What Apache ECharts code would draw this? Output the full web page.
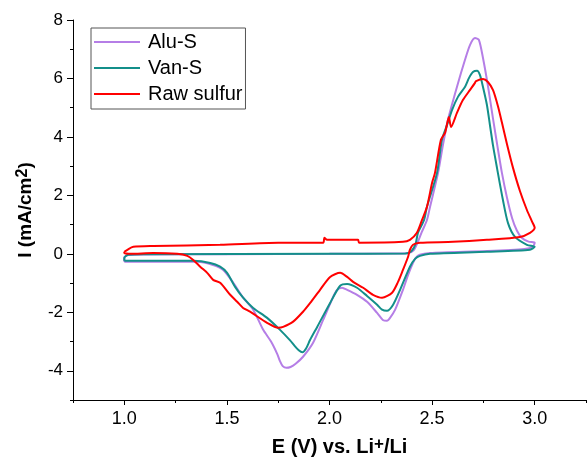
<!DOCTYPE html>
<html>
<head>
<meta charset="utf-8">
<script src="https://cdn.jsdelivr.net/npm/echarts@6/dist/echarts.min.js"></script>
<style>
  html, body { margin: 0; padding: 0; background: #fff; }
  #chart { width: 587px; height: 457px; }
</style>
</head>
<body>
<div id="chart"></div>
<script>
  // CV loops, [E (V), I (mA/cm2)]
  // anodic sweep 1.0 -> 3.0 first, then cathodic back to 1.0
  const aluS = [
    [1.00, -0.27], [1.00, -0.12], [1.02, -0.04], [1.10, -0.02], [1.50, -0.01], [2.00, 0.0],
    [2.30, 0.01], [2.38, 0.02], [2.41, 0.12], [2.43, 0.4], [2.45, 0.75], [2.475, 1.16],
    [2.49, 1.61], [2.529, 2.77], [2.553, 3.73], [2.577, 4.58], [2.621, 5.71], [2.66, 6.63],
    [2.685, 7.15], [2.709, 7.38], [2.728, 7.32], [2.748, 6.7], [2.772, 5.75], [2.797, 4.62],
    [2.818, 3.7], [2.84, 2.78], [2.865, 1.92], [2.89, 1.22], [2.913, 0.8], [2.938, 0.54],
    [2.97, 0.42], [3.0, 0.38], [2.99, 0.24], [2.95, 0.17], [2.77, 0.1], [2.49, 0.03], [2.44, -0.03],
    [2.42, -0.14], [2.407, -0.31], [2.383, -0.72], [2.358, -1.23], [2.32, -1.91], [2.295, -2.19],
    [2.28, -2.29], [2.26, -2.26], [2.232, -2.02], [2.183, -1.64], [2.134, -1.4], [2.086, -1.23],
    [2.061, -1.16], [2.035, -1.25], [2.018, -1.47], [1.969, -2.26], [1.92, -3.04], [1.871, -3.52],
    [1.835, -3.76], [1.81, -3.87], [1.79, -3.9], [1.772, -3.84], [1.758, -3.66], [1.745, -3.42],
    [1.715, -3.0], [1.677, -2.6], [1.628, -1.91], [1.579, -1.5], [1.531, -0.99], [1.482, -0.55],
    [1.433, -0.38], [1.355, -0.27], [1.224, -0.27], [1.0, -0.27]
  ]
  const vanS = [
    [1.00, -0.24], [1.00, -0.14], [1.02, -0.03], [1.10, -0.01], [2.00, 0.0], [2.37, 0.01],
    [2.40, 0.1], [2.42, 0.35], [2.431, 0.72], [2.461, 1.16], [2.475, 1.61], [2.524, 2.77],
    [2.548, 3.9], [2.573, 4.41], [2.597, 4.92], [2.626, 5.37], [2.66, 5.71], [2.68, 6.02],
    [2.699, 6.22], [2.719, 6.26], [2.733, 6.12], [2.748, 5.71], [2.767, 5.1], [2.782, 4.4],
    [2.797, 3.7], [2.816, 2.95], [2.845, 1.85], [2.87, 1.05], [2.904, 0.58], [2.962, 0.31],
    [3.0, 0.24], [2.977, 0.14], [2.767, 0.07], [2.49, 0.0], [2.441, -0.07], [2.417, -0.17],
    [2.392, -0.44], [2.344, -1.23], [2.31, -1.74], [2.28, -1.95], [2.256, -1.91], [2.232, -1.74],
    [2.183, -1.44], [2.134, -1.16], [2.086, -1.03], [2.052, -1.09], [2.003, -1.68], [1.94, -2.5],
    [1.905, -2.95], [1.885, -3.25], [1.868, -3.37], [1.85, -3.3], [1.83, -3.15], [1.808, -2.96],
    [1.759, -2.6], [1.696, -2.19], [1.628, -1.85], [1.579, -1.5], [1.54, -1.13], [1.501, -0.65],
    [1.467, -0.44], [1.419, -0.31], [1.336, -0.24], [1.141, -0.24], [1.0, -0.24]
  ]
  const rawSulfur = [
    [1.0, 0.07], [1.015, 0.14], [1.044, 0.24], [1.141, 0.27], [1.467, 0.31], [1.75, 0.38],
    [1.969, 0.38], [1.975, 0.55], [1.988, 0.48], [2.139, 0.48], [2.144, 0.38], [2.358, 0.41],
    [2.392, 0.48], [2.426, 0.72], [2.451, 1.16], [2.475, 1.61], [2.5, 2.43], [2.514, 2.77],
    [2.543, 3.9], [2.563, 4.14], [2.582, 4.68], [2.592, 4.34], [2.621, 4.82], [2.65, 5.26],
    [2.685, 5.61], [2.709, 5.85], [2.714, 5.91], [2.748, 5.98], [2.772, 5.88], [2.797, 5.6],
    [2.821, 5.05], [2.84, 4.5], [2.865, 3.75], [2.894, 2.95], [2.928, 2.15], [2.962, 1.5],
    [2.986, 1.12], [3.0, 0.89], [2.977, 0.72], [2.928, 0.58], [2.767, 0.48], [2.602, 0.41],
    [2.441, 0.38], [2.407, 0.31], [2.392, 0.14], [2.383, -0.1], [2.358, -0.55], [2.334, -0.96],
    [2.305, -1.33], [2.256, -1.5], [2.212, -1.4], [2.164, -1.16], [2.115, -0.96], [2.086, -0.79],
    [2.052, -0.65], [2.003, -0.79], [1.954, -1.23], [1.906, -1.68], [1.871, -1.98], [1.823, -2.32],
    [1.774, -2.5], [1.75, -2.53], [1.696, -2.36], [1.613, -1.98], [1.579, -1.85], [1.55, -1.64],
    [1.516, -1.4], [1.467, -0.99], [1.433, -0.89], [1.404, -0.65], [1.37, -0.44], [1.336, -0.21],
    [1.307, -0.07], [1.258, 0.0], [1.141, 0.03], [1.029, 0.0], [1.0, 0.03], [1.0, 0.07]
  ]
  const seriesNames = ['Alu-S', 'Van-S', 'Raw sulfur']
  const seriesColors = ['#b57ee6', '#138f8a', '#ff0000']

  const xMajor = [1.0, 1.5, 2.0, 2.5, 3.0]
  const xMinor = [0.75, 1.25, 1.75, 2.25, 2.75, 3.25]
  const yMajor = [-4, -2, 0, 2, 4, 6, 8]
  const yMinor = [-5, -3, -1, 1, 3, 5, 7]

  const font = 'Liberation Sans, Arial, sans-serif'
  const axisColor = '#000'

  const chart = echarts.init(document.getElementById('chart'))

  const mkSeries = (name, data, i) => ({
    name: name,
    type: 'line',
    data: data,
    showSymbol: false,
    symbol: 'none',
    smooth: 0.25,
    xAxisIndex: 0,
    yAxisIndex: 0,
    lineStyle: { color: seriesColors[i], width: 2 },
    itemStyle: { color: seriesColors[i] },
    animation: false
  })

  const option = {
    animation: false,
    grid: { left: 73, right: 1, top: 20, bottom: 57, containLabel: false, outerBoundsMode: 'none' },
    legend: {
      orient: 'vertical',
      left: 91,
      top: 28,
      data: seriesNames,
      icon: 'rect',
      itemWidth: 46,
      itemHeight: 2,
      itemGap: 6,
      padding: [4, 3, 5, 3],
      borderColor: '#555',
      borderWidth: 1,
      selectedMode: false,
      textStyle: { fontFamily: font, fontSize: 20, color: '#000', lineHeight: 20, padding: [0, 0, 0, 3] }
    },
    xAxis: [
      {
        type: 'value',
        min: 0.75,
        max: 3.25,
        name: '{b|E (V) vs. Li}{s|+}{b|/Li}',
        nameLocation: 'middle',
        nameGap: 36,
        nameTextStyle: {
          padding: [0, 0, 0, 20],
          rich: {
            b: { fontFamily: font, fontSize: 20, fontWeight: 'bold', color: '#000', lineHeight: 22 },
            s: { fontFamily: font, fontSize: 17, fontWeight: 'bold', color: '#000', verticalAlign: 'top', lineHeight: 14 }
          }
        },
        splitLine: { show: false },
        axisLine: { onZero: false, lineStyle: { color: axisColor, width: 1 } },
        axisTick: { customValues: xMajor, length: 5, lineStyle: { color: axisColor } },
        axisLabel: {
          customValues: xMajor,
          margin: 10,
          fontFamily: font,
          fontSize: 18,
          color: '#000',
          formatter: (v) => v.toFixed(1)
        }
      },
      {
        type: 'value',
        min: 0.75,
        max: 3.25,
        position: 'bottom',
        splitLine: { show: false },
        axisLine: { show: false, onZero: false },
        axisTick: { customValues: xMinor, length: 3, lineStyle: { color: axisColor } },
        axisLabel: { show: false }
      }
    ],
    yAxis: [
      {
        type: 'value',
        min: -5,
        max: 8,
        name: '{b|I (mA/cm}{s|2}{b|)}',
        nameLocation: 'middle',
        nameGap: 36,
        nameTextStyle: {
          rich: {
            b: { fontFamily: font, fontSize: 19, fontWeight: 'bold', color: '#000', lineHeight: 22 },
            s: { fontFamily: font, fontSize: 16, fontWeight: 'bold', color: '#000', verticalAlign: 'top', lineHeight: 14 }
          }
        },
        splitLine: { show: false },
        axisLine: { show: true, onZero: false, lineStyle: { color: axisColor, width: 1 } },
        axisTick: { show: true, customValues: yMajor, length: 6, lineStyle: { color: axisColor } },
        axisLabel: {
          customValues: yMajor,
          margin: 10,
          fontFamily: font,
          fontSize: 17,
          color: '#000'
        }
      },
      {
        type: 'value',
        min: -5,
        max: 8,
        position: 'left',
        splitLine: { show: false },
        axisLine: { show: false, onZero: false },
        axisTick: { show: true, customValues: yMinor, length: 3, lineStyle: { color: axisColor } },
        axisLabel: { show: false }
      }
    ],
    series: [
      mkSeries(seriesNames[0], aluS, 0),
      mkSeries(seriesNames[1], vanS, 1),
      mkSeries(seriesNames[2], rawSulfur, 2)
    ]
  }

  chart.setOption(option)
</script>
</body>
</html>
